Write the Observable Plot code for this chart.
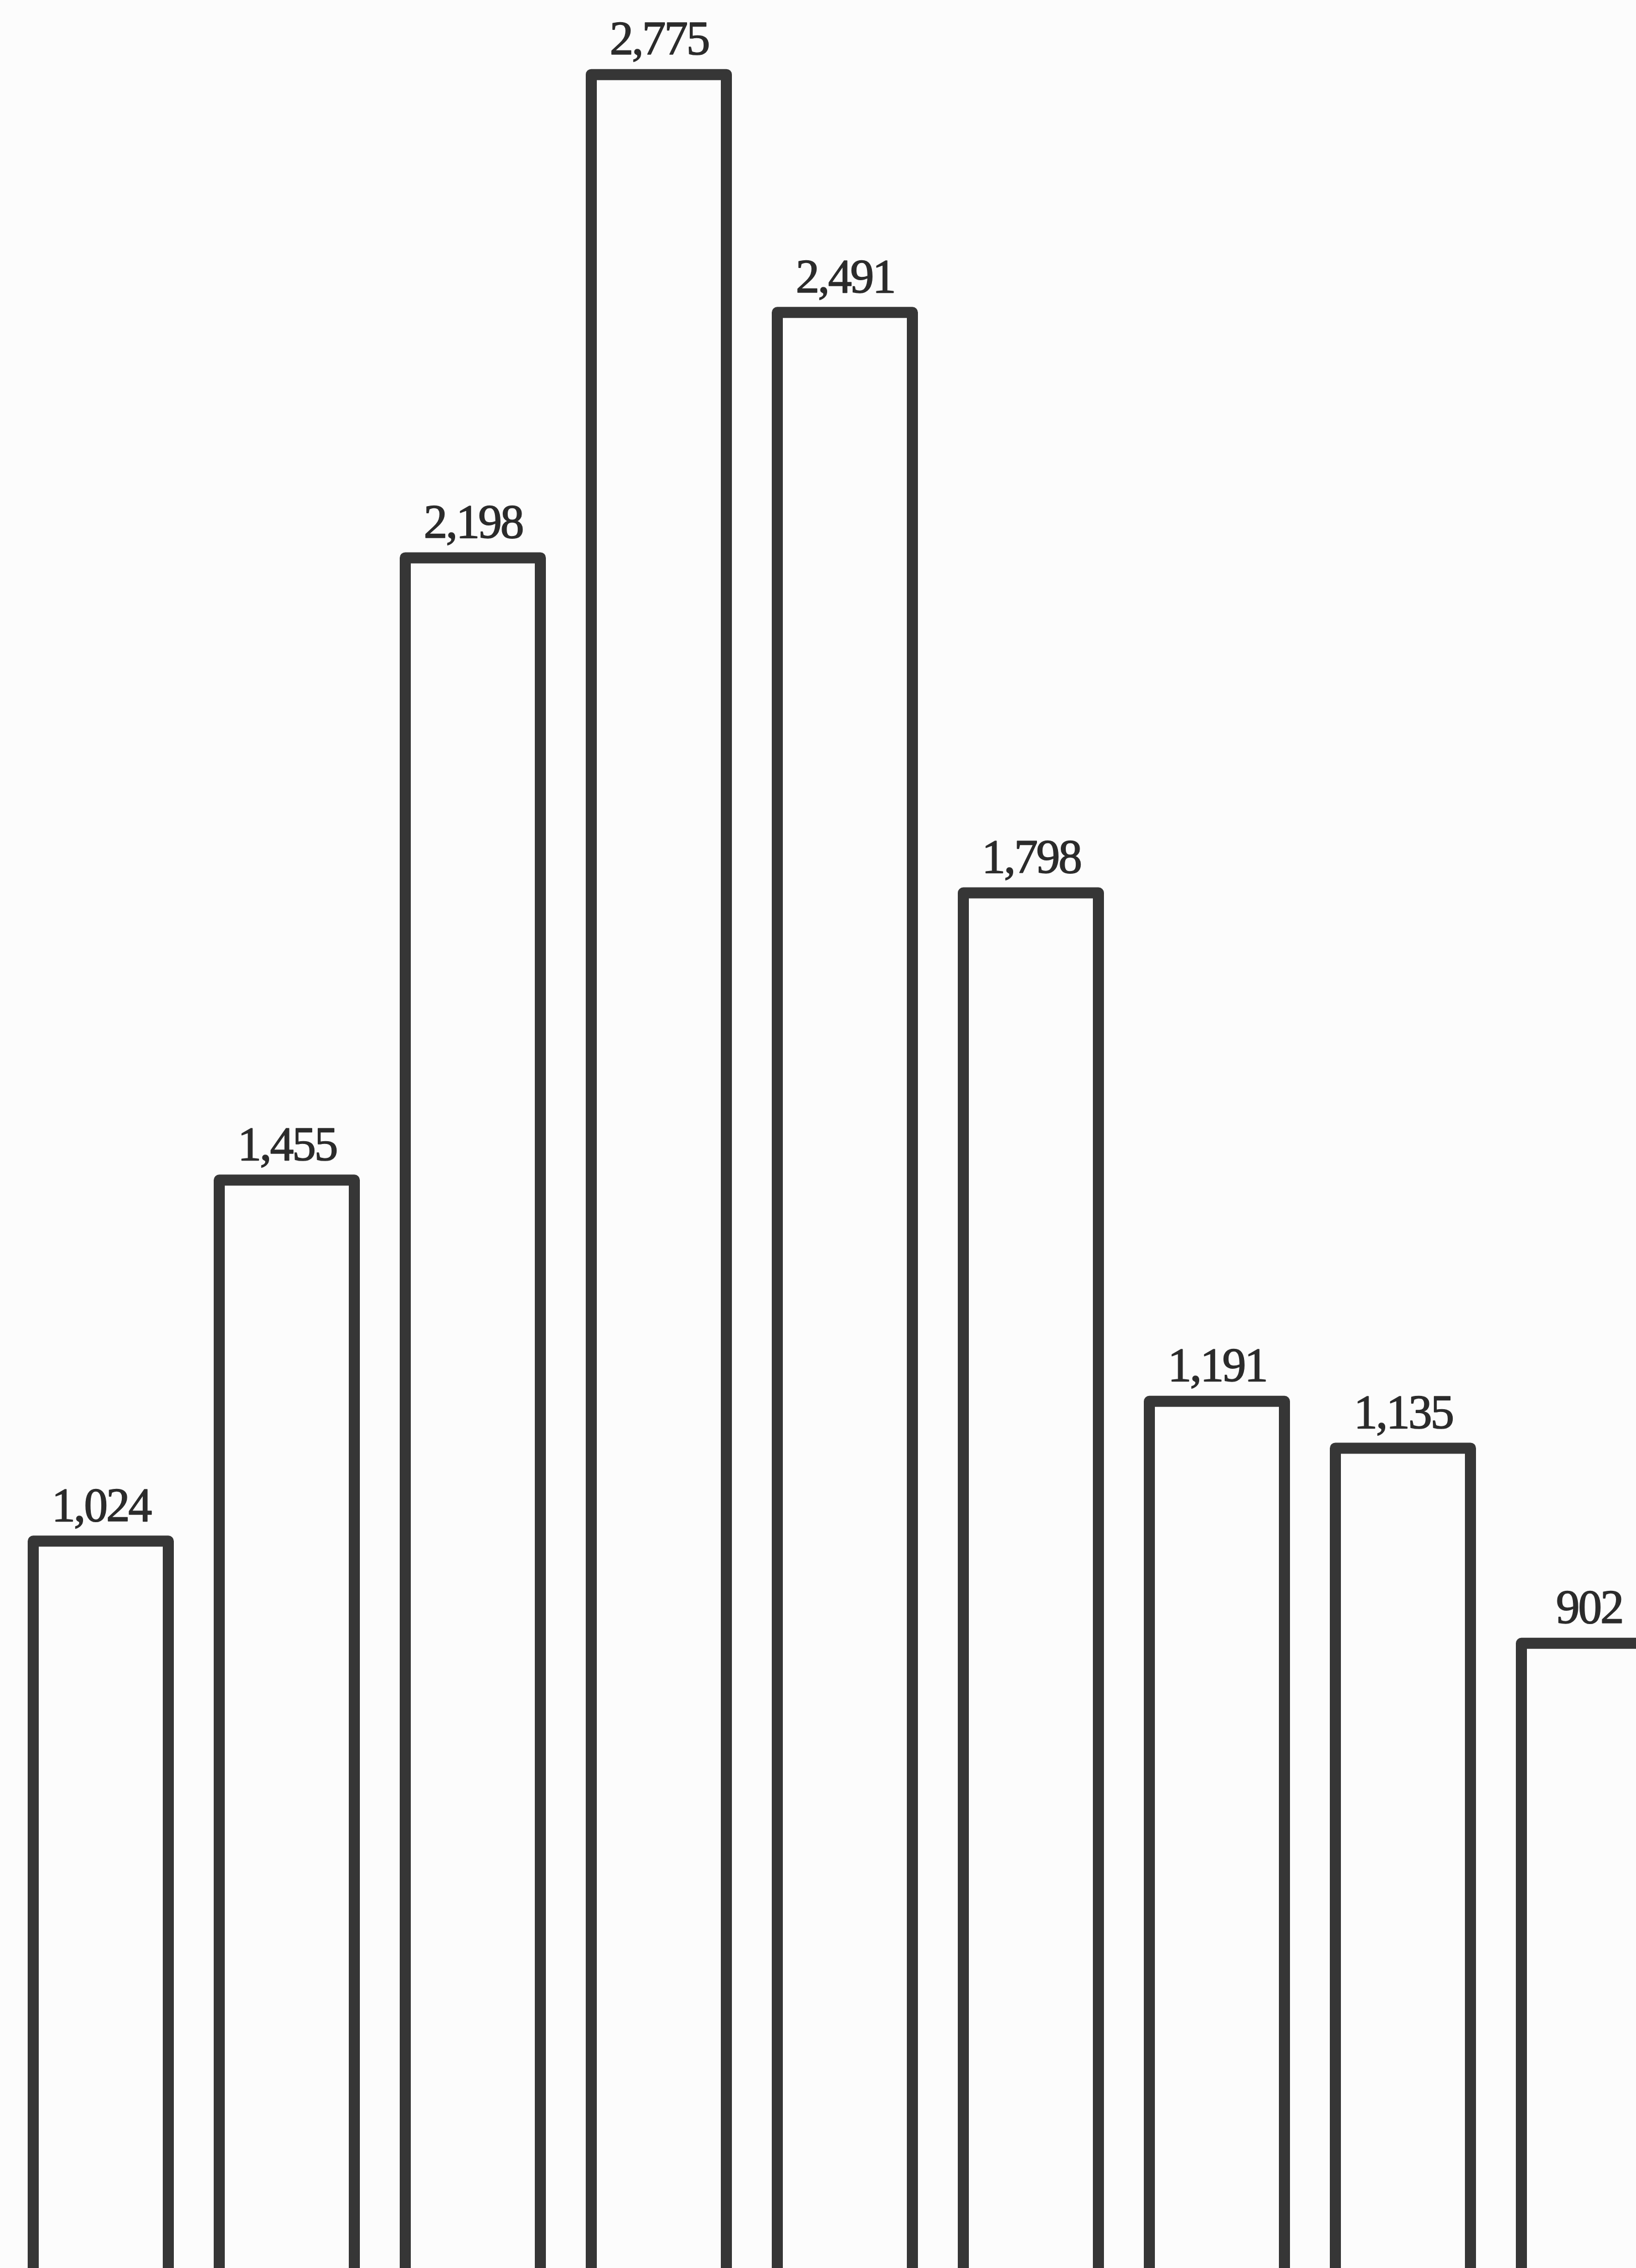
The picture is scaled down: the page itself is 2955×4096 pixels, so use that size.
<!DOCTYPE html>
<html>
<head>
<meta charset="utf-8">
<script src="https://cdn.jsdelivr.net/npm/d3@7"></script>
<script src="https://cdn.jsdelivr.net/npm/@observablehq/plot@0.6"></script>
<style>
html, body { margin: 0; padding: 0; background: #fcfcfc; overflow: hidden; }
#chart svg { display: block; overflow: hidden; }
</style>
</head>
<body>
<div id="chart"></div>
<script>
const categories = ["1", "2", "3", "4", "5", "6", "7", "8", "9"];
const values = [1024, 1455, 2198, 2775, 2491, 1798, 1191, 1135, 902];

const fmt = d3.format(",");
const data = categories.map((c, i) => ({category: c, value: values[i], label: fmt(values[i])}));

const plot = Plot.plot({
  width: 2955,
  height: 4096,
  margin: 0,
  style: {background: "#fcfcfc", overflow: "hidden"},
  x: {domain: categories, range: [-33, 3084], padding: 0.275, axis: null},
  y: {domain: [0, 2864], range: [4332.3, 0], axis: null},
  marks: [
    Plot.barY(data, {
      x: "category", y: "value",
      fill: "none", stroke: "#363636", strokeWidth: 20, strokeLinejoin: "round"
    }),
    Plot.text(data, {
      x: "category", y: "value", text: "label",
      dy: -37, lineAnchor: "bottom",
      fontSize: 86, fontFamily: "Liberation Serif",
      fill: "#2b2b2b", stroke: "#2b2b2b", strokeWidth: 1.5
    })
  ]
});
plot.querySelectorAll("text").forEach(t => t.setAttribute("letter-spacing", "-3"));
document.getElementById("chart").appendChild(plot);
</script>
</body>
</html>
